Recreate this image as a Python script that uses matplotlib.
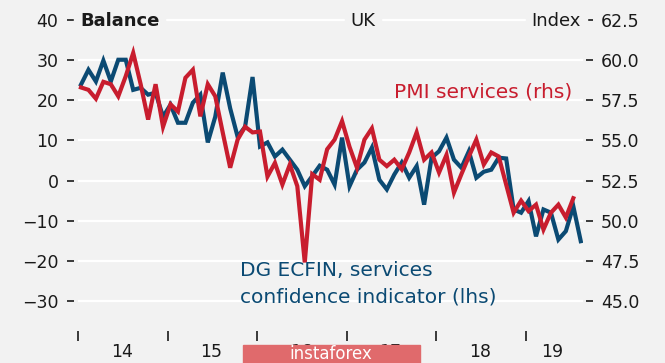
import numpy as np
import matplotlib
matplotlib.use("Agg")
import matplotlib.pyplot as plt
from matplotlib.patches import Rectangle

# monthly, Jan 2014 .. Aug 2019 (balance, lhs)
dg_ecfin = [23.9, 27.6, 24.7, 29.9, 24.7, 30.1, 30.1, 22.6, 23.1, 21.4, 21.9, 15.9,
            18.9, 14.4, 14.4, 19.4, 21.4, 9.5, 15.9, 26.9, 18.0, 10.9, 13.4, 25.8,
            8.5, 9.5, 6.0, 7.7, 5.2, 2.7, -1.4, 1.1, 3.7, 2.7, -1.0, 10.7,
            -1.4, 2.7, 4.5, 8.2, 0.2, -2.2, 1.5, 4.5, 0.7, 3.6, -6.0, 5.7,
            7.3, 10.7, 5.2, 3.2, 7.3, 0.7, 2.2, 2.7, 5.7, 5.5, -7.2, -8.0,
            -5.1, -13.9, -7.2, -8.0, -14.7, -12.6, -6.4, -15.1]

# monthly, Jan 2014 .. Jul 2019 (index, rhs)
pmi_services = [58.3, 58.15, 57.6, 58.65, 58.5, 57.75, 59.0, 60.45, 58.5, 56.3, 58.5, 55.85,
                57.25, 56.8, 58.9, 59.4, 56.5, 58.5, 57.75, 55.5, 53.3, 55.05, 55.85, 55.5,
                55.55, 52.75, 53.6, 52.25, 53.5, 52.15, 47.4, 52.9, 52.55, 54.45, 55.05, 56.2,
                54.6, 53.3, 55.05, 55.75, 53.8, 53.4, 53.8, 53.2, 54.25, 55.5, 53.8, 54.25,
                53.0, 54.1, 51.75, 52.9, 54.0, 55.05, 53.5, 54.25, 54.0, 52.25, 50.5, 51.25,
                50.6, 51.0, 49.45, 50.5, 51.0, 50.2, 51.4]

year_labels = ["14", "15", "16", "17", "18", "19"]
left_ticks = [-30, -20, -10, 0, 10, 20, 30, 40]
right_ticks = [45.0, 47.5, 50.0, 52.5, 55.0, 57.5, 60.0, 62.5]

BG = "#f2f2f2"
BLUE = "#0b4a73"
RED = "#c81d2e"
DARK = "#1a1a1a"
W, H = 665, 363

fig = plt.figure(figsize=(W / 100, H / 100), dpi=100, facecolor=BG)
ax = fig.add_axes([78 / W, 60 / H, (583 - 78) / W, (303 - 18) / H], facecolor=BG)
ax2 = ax.twinx()

ylo, yhi = -30.5, 40.5
ax.set_ylim(ylo, yhi)
ax2.set_ylim(52.5 + ylo / 4, 52.5 + yhi / 4)
ax.set_xlim(-0.3, 67.3)

for y in left_ticks:
    ax.axhline(y, color="white", lw=1.6, zorder=0)

ax.plot(np.arange(len(dg_ecfin)), dg_ecfin, color=BLUE, lw=3.0, solid_joinstyle="miter", zorder=2)
ax2.plot(np.arange(len(pmi_services)), pmi_services, color=RED, lw=3.0, solid_joinstyle="miter", zorder=3)

for s in ["top", "right", "left", "bottom"]:
    ax.spines[s].set_visible(False)
    ax2.spines[s].set_visible(False)

ax.spines["left"].set_position(("outward", 3))
ax.spines["bottom"].set_position(("outward", 20))
ax2.spines["right"].set_position(("outward", 2))

TICK_FS = 12.5
ax.set_yticks(left_ticks)
ax.tick_params(axis="y", length=5, width=1.2, color=DARK, pad=6, labelsize=TICK_FS, labelcolor=DARK)
ax2.set_yticks(right_ticks)
ax2.set_yticklabels([f"{v:.1f}" for v in right_ticks])
ax2.tick_params(axis="y", length=5, width=1.2, color=DARK, pad=6, labelsize=TICK_FS, labelcolor=DARK)

ax.set_xticks([12 * k - 0.4 for k in range(6)])
ax.set_xticklabels([])
ax.set_xticks([12 * k + 5.5 for k in range(5)] + [63.2], minor=True)
ax.set_xticklabels(year_labels, minor=True)
ax.tick_params(axis="x", which="major", length=7, width=1.2, color=DARK, direction="out")
ax.tick_params(axis="x", which="minor", length=0, pad=9, labelsize=TICK_FS, labelcolor=DARK)

def fx(x):
    return x / W

def fy(y):
    return 1 - y / H

fig.text(fx(80), fy(21), "Balance", ha="left", va="center", fontsize=13,
         fontweight="bold", color=DARK, backgroundcolor=BG)
fig.text(fx(363), fy(21), "UK", ha="center", va="center", fontsize=13,
         color=DARK, backgroundcolor=BG)
fig.text(fx(581), fy(21), "Index", ha="right", va="center", fontsize=13,
         color=DARK, backgroundcolor=BG)
fig.text(fx(572), fy(92), "PMI services (rhs)", ha="right", va="center",
         fontsize=14.5, color=RED)
fig.text(fx(240), fy(270), "DG ECFIN, services", ha="left", va="center",
         fontsize=14.5, color=BLUE)
fig.text(fx(240), fy(297), "confidence indicator (lhs)", ha="left", va="center",
         fontsize=14.5, color=BLUE)

fig.patches.append(Rectangle((fx(243), 0), (420 - 243) / W, 18 / H,
                             transform=fig.transFigure, color="#e06a6c", zorder=10))
fig.text(fx(331), fy(354), "instaforex", ha="center", va="center", fontsize=12,
         color="white", zorder=11)

fig.savefig("out.png", dpi=100, facecolor=BG)
